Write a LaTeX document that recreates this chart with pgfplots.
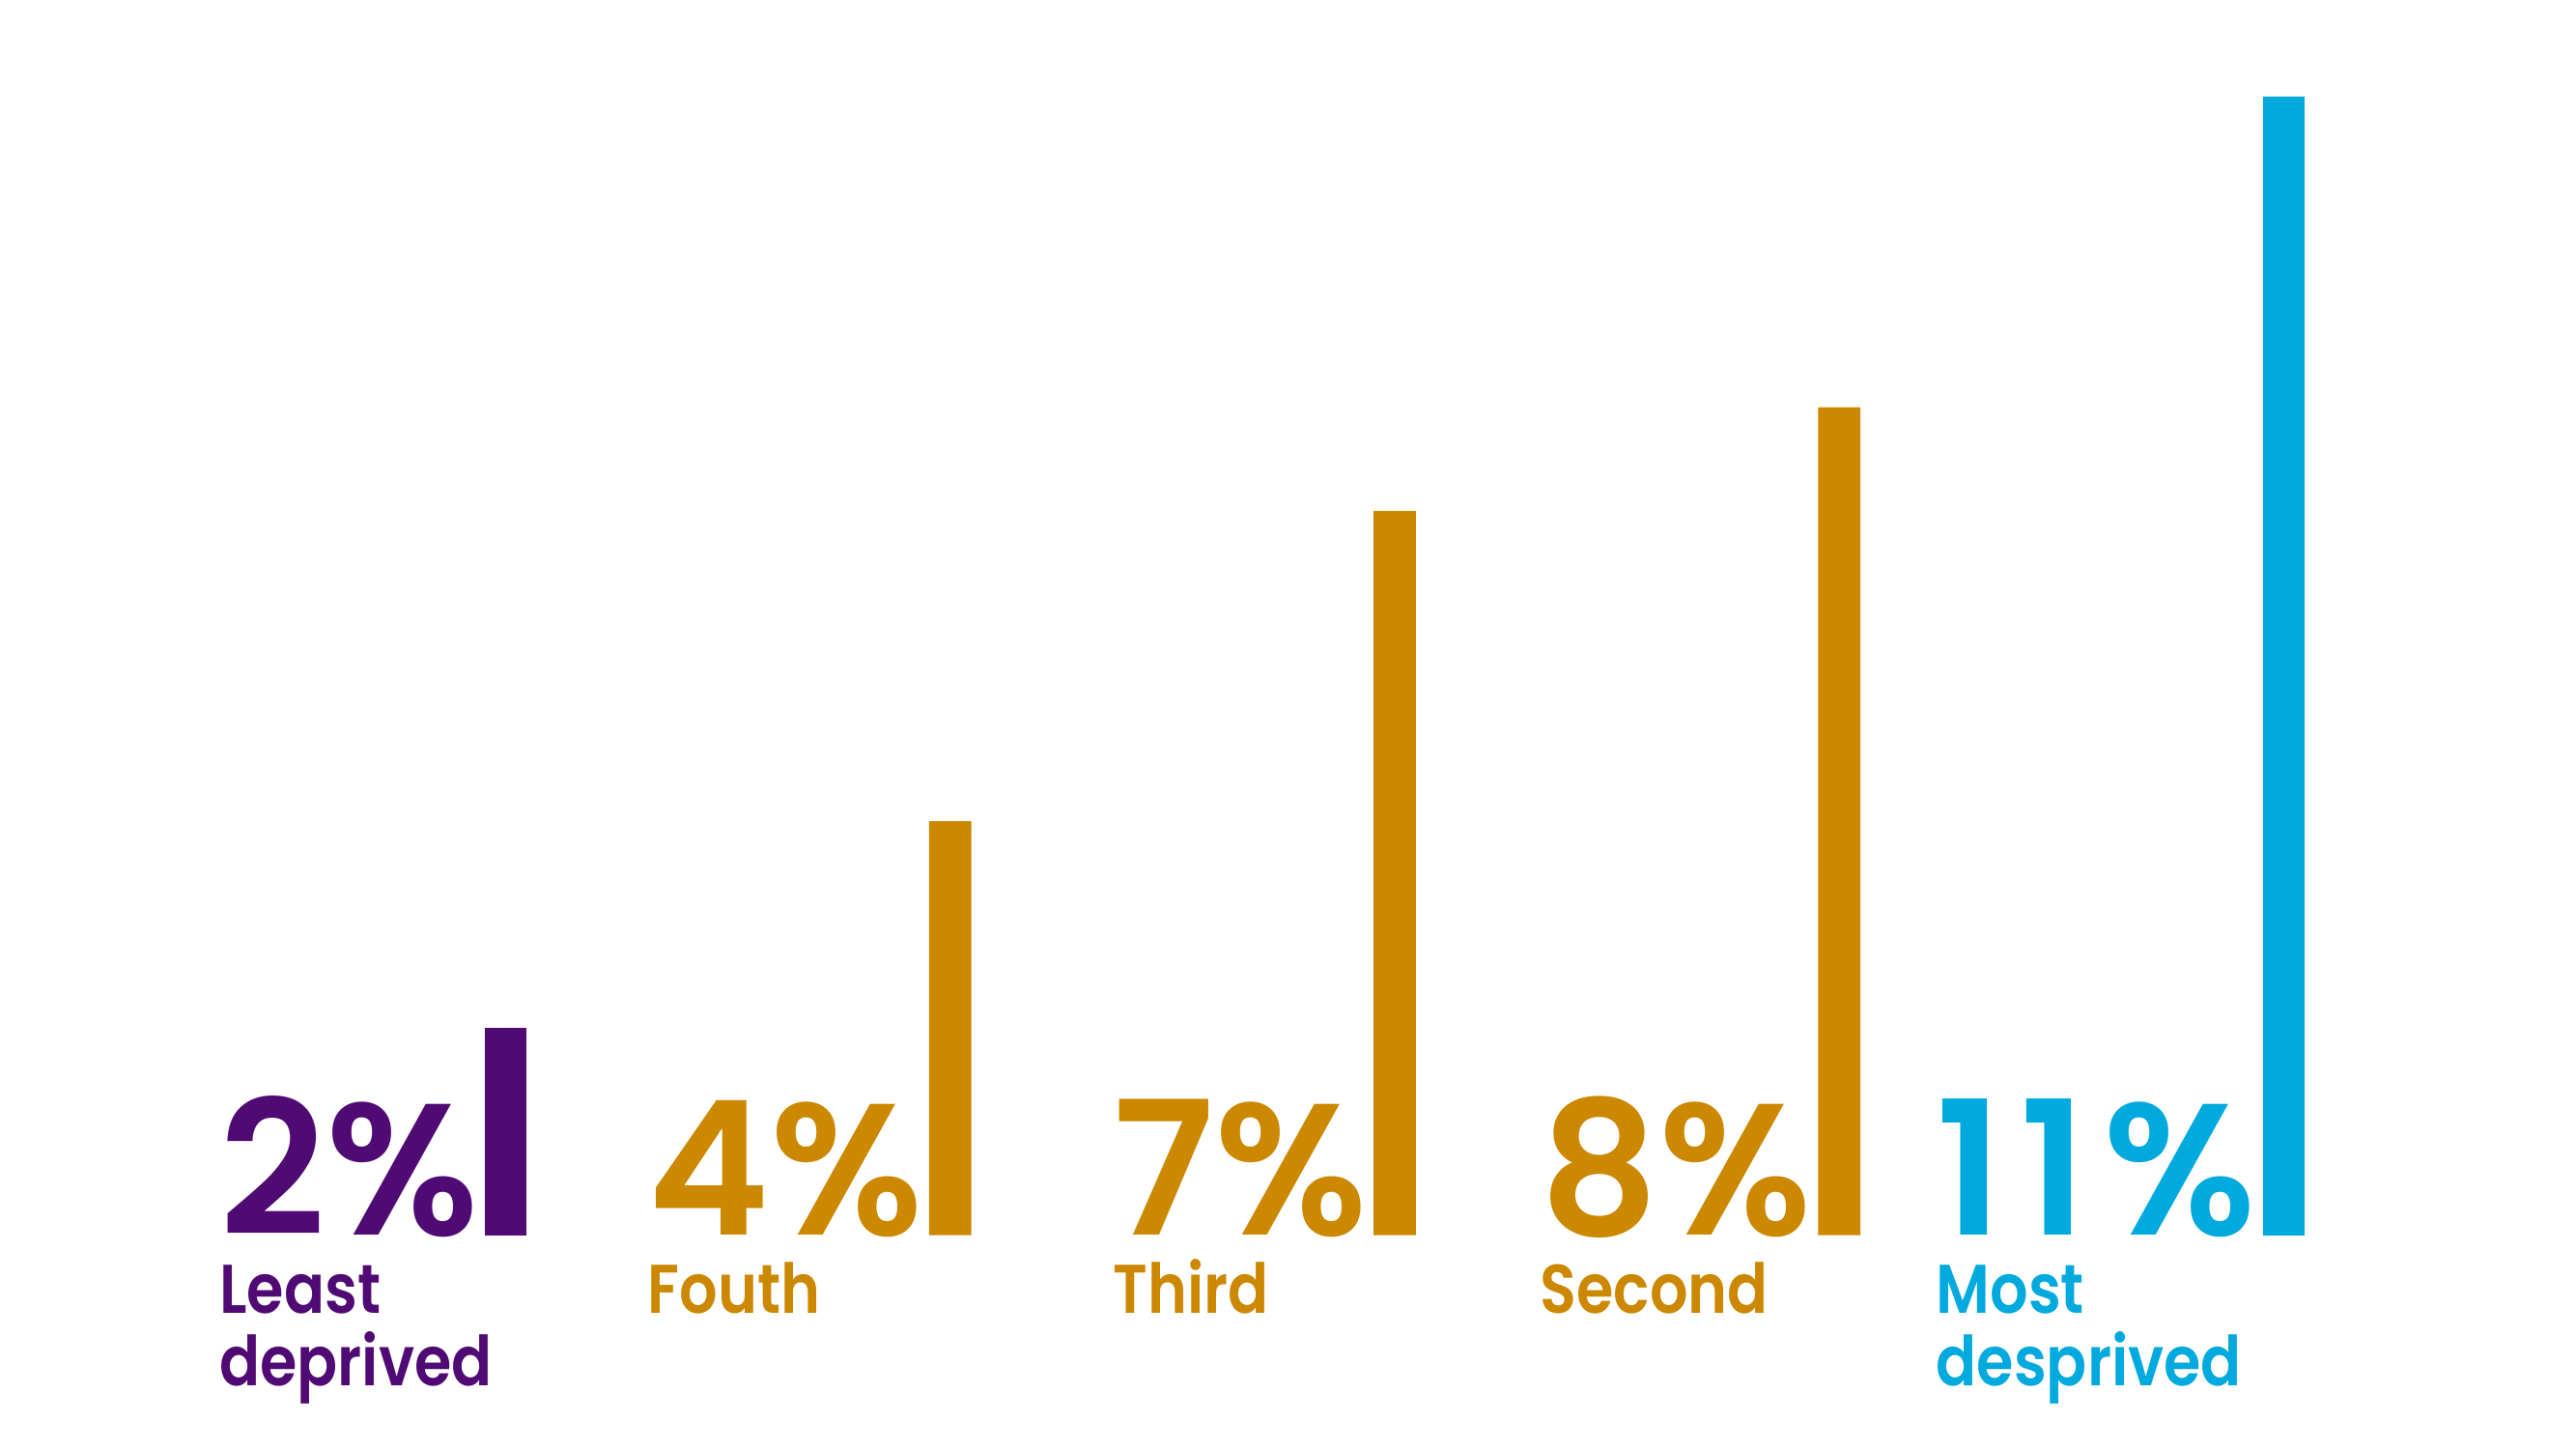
\documentclass[border=0pt]{standalone}
\usepackage{pgfplots}
\pgfplotsset{compat=1.18}
\usepackage{fontspec}
\setmainfont{Poppins}
\IfFontExistsTF{Poppins SemiBold}
  {\newfontfamily\labfamily{Poppins SemiBold}[FakeStretch=0.87]
   \newfontfamily\numfamily{Poppins SemiBold}[FakeStretch=0.99]}
  {\newfontfamily\labfamily{Poppins}[FakeStretch=0.86]
   \newfontfamily\numfamily{Poppins}[FakeStretch=0.95]}

\definecolor{leastpurple}{HTML}{500A74}
\definecolor{midgold}{HTML}{CC8800}
\definecolor{mostblue}{HTML}{00A9DE}

\newcommand{\numfont}{\fontsize{55}{55}\selectfont\numfamily}
\newcommand{\labfont}{\fontsize{20.3}{20.3}\selectfont\labfamily}

% one big figure left of the bar, category name (one or two lines) under it
\newcommand{\barlabel}[4]{%
  \node[anchor=base east, inner sep=0, text=#2, font=\numfont] (n#1)
    at ([xshift=-0.27cm]axis cs:#1,0) {#3};
  \node[anchor=base west, inner sep=0, text=#2, font=\labfont]
    at ([yshift=-0.81cm]n#1.base west)
    {\vtop{\baselineskip=0.75cm #4}};
}

\begin{document}
\begin{tikzpicture}
\useasboundingbox (0,0) rectangle (26.67cm,15cm);
\begin{axis}[
    scale only axis,
    width=26.67cm, height=15cm,
    xmin=-1.1378, xmax=4.6575,
    ymin=-2.068, ymax=11.937,
    hide axis, clip=false,
]
\addplot[ybar, bar width=0.437cm, bar shift=0pt, fill=leastpurple, draw=none]
    coordinates {(0,2)};
\addplot[ybar, bar width=0.437cm, bar shift=0pt, fill=midgold, draw=none]
    coordinates {(1,4) (2,7) (3,8)};
\addplot[ybar, bar width=0.437cm, bar shift=0pt, fill=mostblue, draw=none]
    coordinates {(4,11)};

\barlabel{0}{leastpurple}{2\%}{\hbox{Least}\hbox{deprived}}
\barlabel{1}{midgold}{4\%}{\hbox{Fouth}}
\barlabel{2}{midgold}{7\%}{\hbox{Third}}
\barlabel{3}{midgold}{8\%}{\hbox{Second}}
\barlabel{4}{mostblue}{1\kern.09em1\kern.09em\%}{\hbox{Most}\hbox{desprived}}
\end{axis}
\end{tikzpicture}
\end{document}
